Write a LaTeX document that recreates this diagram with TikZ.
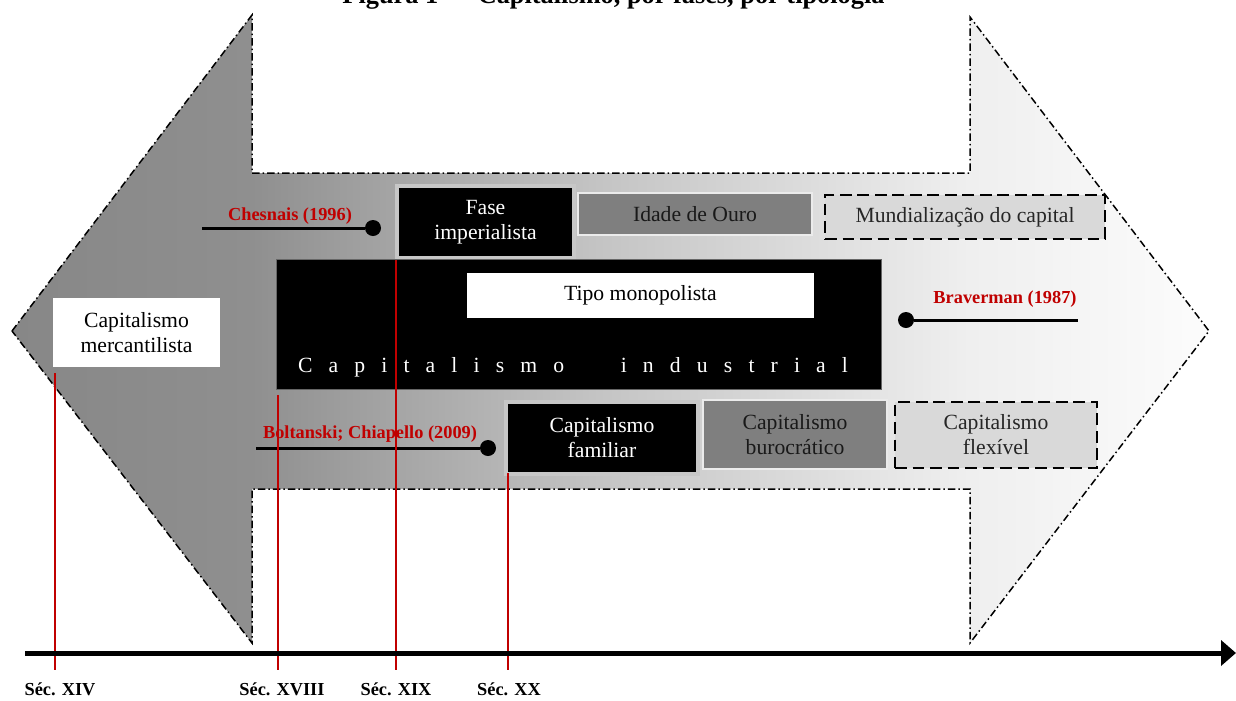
\documentclass[tikz,border=0pt]{standalone}
\usepackage{fontspec}
\setmainfont{Liberation Serif}
\usetikzlibrary{arrows.meta}

% one drawing unit = 0.6pt
\newlength\pxu
\setlength\pxu{0.6pt}

\definecolor{labred}{HTML}{C00000}
\definecolor{midgray}{HTML}{7F7F7F}
\definecolor{palegray}{HTML}{D9D9D9}
\definecolor{shA}{HTML}{878787}
\definecolor{shB}{HTML}{8F8F8F}
\definecolor{shC}{HTML}{C4C4C4}
\definecolor{shD}{HTML}{EFEFEF}
\definecolor{shE}{HTML}{FCFCFC}

% grey band, dark on the left head, fading towards the right head
\pgfdeclarehorizontalshading{bandshade}{100bp}{%
  color(0bp)=(shA); color(25bp)=(shA); color(35bp)=(shB);
  color(49.5bp)=(shC); color(65bp)=(shD); color(75bp)=(shE); color(100bp)=(shE)}

\tikzset{
  box/.style={rectangle, inner sep=0pt, align=center, font=\fontsize{13}{15}\selectfont},
  sz/.style 2 args={minimum width=#1*\pxu, minimum height=#2*\pxu},
  blackbox/.style={box, fill=black, text=white, draw=black!22, line width=2.4pt},
  greybox/.style={box, fill=midgray, text=black!90, draw=white!92!black, line width=1.2pt},
  dashbox/.style={box, fill=palegray, text=black!85, draw=black, line width=1.2pt,
    dash pattern=on 7pt off 3.5pt},
  whitebox/.style={box, fill=white, text=black},
  indbox/.style={box, fill=black, draw=black!60, line width=0.6pt},
  dot/.style={circle, fill=black, inner sep=0pt, minimum size=9.6pt},
  labline/.style={line width=1.8pt},
  reflabel/.style={text=labred, font=\fontsize{11}{13}\selectfont\bfseries, inner sep=0pt},
  redline/.style={draw=labred, line width=1.2pt},
  timeline/.style={line width=3pt, -{Triangle[length=9pt,width=15pt]}},
  seclabel/.style={font=\fontsize{11}{13}\selectfont\bfseries, inner sep=0pt},
  outline/.style={draw=black, line width=0.9pt,
    dash pattern=on 4.5pt off 1.8pt on 0.9pt off 1.8pt},
}

\begin{document}
\begin{tikzpicture}[x=0.6pt, y=-0.6pt]
\useasboundingbox (0,0) rectangle (1236,700);

% double-headed band
\shadedraw[shading=bandshade, outline]
  (12,331) -- (252,15) -- (252,173) -- (970,173) -- (970,17) -- (1209,331)
  -- (970,643) -- (970,489) -- (252,489) -- (252,643) -- cycle;

% phases and types
\node[whitebox, sz={167}{69}] (merc) at (136.5,332.5) {Capitalismo\\mercantilista};
\node[blackbox, sz={177}{72}] (fase) at (485.5,222) {Fase\\imperialista};
\node[greybox, sz={234}{42}] (ouro) at (695,214) {Idade de Ouro};
\node[dashbox, sz={280}{44}] (mund) at (965,217) {Mundialização do capital};

\node[indbox, sz={605}{130}] (ind) at (579,324.5) {};
\node[whitebox, sz={347}{45}] (mono) at (640.5,295.5) {Tipo monopolista};
\node[text=white, inner sep=0pt, anchor=base, font=\fontsize{13}{15}\selectfont] (indtxt) at (573,372)
  {\makebox[550\pxu]{C\hfill a\hfill p\hfill i\hfill t\hfill a\hfill l\hfill i\hfill s\hfill m\hfill o\hspace{\stretch{3.5}}i\hfill n\hfill d\hfill u\hfill s\hfill t\hfill r\hfill i\hfill a\hfill l}};

\node[blackbox, sz={192}{72}] (fam) at (602,438) {Capitalismo\\familiar};
\node[greybox, sz={184}{69}] (buro) at (795,434.5) {Capitalismo\\burocrático};
\node[dashbox, sz={202}{66}] (flex) at (996,435) {Capitalismo\\flexível};

% authors
\coordinate (chL) at (202,228);
\node[dot] (chD) at (373,228) {};
\draw[labline] (chL) -- (chD);
\node[reflabel, anchor=base] (chT) at (290,220) {Chesnais (1996)};

\node[dot] (brD) at (906,320) {};
\coordinate (brR) at (1078,320);
\draw[labline] (brD) -- (brR);
\node[reflabel, anchor=base] (brT) at (1005,303) {Braverman (1987)};

\coordinate (boL) at (256,448);
\node[dot] (boD) at (488,448) {};
\draw[labline] (boL) -- (boD);
\node[reflabel, anchor=base] (boT) at (370,438) {Boltanski; Chiapello (2009)};

% century markers
\coordinate (r1a) at (55,373);  \coordinate (r1b) at (55,670);
\coordinate (r2a) at (278,395); \coordinate (r2b) at (278,670);
\coordinate (r3a) at (396,260); \coordinate (r3b) at (396,670);
\coordinate (r4a) at (508,473); \coordinate (r4b) at (508,670);
\draw[redline] (r1a) -- (r1b);
\draw[redline] (r2a) -- (r2b);
\draw[redline] (r3a) -- (r3b);
\draw[redline] (r4a) -- (r4b);

% time axis
\coordinate (axL) at (25,653);
\coordinate (axR) at (1236,653);
\draw[timeline] (axL) -- (axR);

\node[seclabel, anchor=base] (s14) at (60,695) {Séc. XIV};
\node[seclabel, anchor=base] (s18) at (282,695) {Séc. XVIII};
\node[seclabel, anchor=base] (s19) at (396,695) {Séc. XIX};
\node[seclabel, anchor=base] (s20) at (509,695) {Séc. XX};

% heading
\node[inner sep=0pt, anchor=base, font=\fontsize{15.8}{18}\selectfont\bfseries] (title) at (613.5,3)
  {Figura 1 — Capitalismo, por fases, por tipologia};
\end{tikzpicture}
\end{document}
